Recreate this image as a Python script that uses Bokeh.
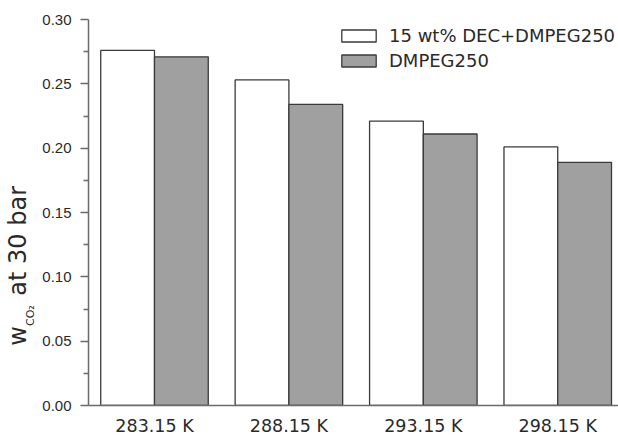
from bokeh.plotting import figure
from bokeh.models import (ColumnDataSource, Range1d, FixedTicker, NumeralTickFormatter,
                          Legend, LegendItem, LinearAxis)
from bokeh.transform import dodge
from bokeh.embed import file_html
from bokeh.resources import INLINE

# ---- data ----
temperatures = ["283.15 K", "288.15 K", "293.15 K", "298.15 K"]
dec_dmpeg250 = [0.276, 0.253, 0.221, 0.201]
dmpeg250 = [0.271, 0.234, 0.211, 0.189]
series_names = ["15 wt% DEC+DMPEG250", "DMPEG250"]
y_ticks = [0.0, 0.05, 0.10, 0.15, 0.20, 0.25, 0.30]
y_minor = [0.025, 0.075, 0.125, 0.175, 0.225, 0.275]
y_label_main = ("w", "at 30 bar")
y_label_sub = "CO\u2082"

xpos = [i + 1 for i in range(len(temperatures))]
src = ColumnDataSource(dict(x=xpos, a=dec_dmpeg250, b=dmpeg250))

p = figure(width=618, height=438, output_backend="svg", toolbar_location=None,
           x_range=Range1d(0.509, 4.452), y_range=Range1d(0, 0.30),
           min_border_left=88, min_border_right=0, min_border_top=19, min_border_bottom=33)
p.outline_line_color = None
p.xgrid.visible = False
p.ygrid.visible = False
p.background_fill_color = "white"

outline = "#3a3a3a"
r1 = p.vbar(x=dodge("x", -0.2), top="a", width=0.4, source=src,
            fill_color="white", line_color=outline, line_width=1.3)
r2 = p.vbar(x=dodge("x", 0.2), top="b", width=0.4, source=src,
            fill_color="#a0a0a0", line_color=outline, line_width=1.3)

axis_col = "#6a6a6a"
txt_col = "#2a2a2a"
NB = "\u00a0"

# y axis (carries the subscript as its axis label)
ya = p.yaxis[0]
ya.ticker = FixedTicker(ticks=y_ticks, minor_ticks=y_minor)
ya.formatter = NumeralTickFormatter(format="0.00")
ya.axis_line_color = axis_col
ya.axis_line_width = 1.5
ya.major_tick_line_color = axis_col
ya.minor_tick_line_color = axis_col
ya.major_tick_line_width = 1.3
ya.minor_tick_line_width = 1.3
ya.major_tick_out = 8
ya.major_tick_in = 0
ya.minor_tick_out = 5
ya.minor_tick_in = 0
ya.major_label_text_font = "Liberation Sans"
ya.major_label_text_font_size = "15px"
ya.major_label_text_color = txt_col
ya.major_label_standoff = 9
ya.axis_label = y_label_sub + NB * 59
ya.axis_label_text_font = "DejaVu Sans"
ya.axis_label_text_font_size = "11px"
ya.axis_label_text_font_style = "normal"
ya.axis_label_text_color = txt_col
ya.axis_label_standoff = 2

# outer label axis: "w ... at 30 bar"
la = LinearAxis(ticker=FixedTicker(ticks=[]), axis_line_color=None,
                major_tick_line_color=None, minor_tick_line_color=None,
                major_tick_out=0, major_tick_in=0, minor_tick_out=0, minor_tick_in=0,
                major_label_standoff=0, major_label_text_font_size="1px",
                axis_label=y_label_main[0] + NB * 4 + y_label_main[1] + NB * 14,
                axis_label_text_font="DejaVu Sans", axis_label_text_font_size="24px",
                axis_label_text_font_style="normal", axis_label_text_color=txt_col,
                axis_label_standoff=-10)
p.add_layout(la, "left")

# x axis
xa = p.xaxis[0]
xa.ticker = FixedTicker(ticks=xpos)
xa.major_label_overrides = {x: t for x, t in zip(xpos, temperatures)}
xa.axis_line_color = axis_col
xa.axis_line_width = 1.5
xa.major_tick_line_color = None
xa.minor_tick_line_color = None
xa.major_tick_out = 0
xa.major_tick_in = 0
xa.major_label_text_font = "DejaVu Sans"
xa.major_label_text_font_size = "17.5px"
xa.major_label_text_color = txt_col
xa.major_label_standoff = 10

legend = Legend(items=[LegendItem(label=series_names[0], renderers=[r1]),
                       LegendItem(label=series_names[1], renderers=[r2])],
                location=(249, 334), padding=0, margin=0, spacing=4,
                glyph_width=43, glyph_height=15, label_height=15, label_standoff=9,
                label_text_font="DejaVu Sans", label_text_font_size="18px",
                label_text_color=txt_col, border_line_color=None,
                background_fill_alpha=0)
p.add_layout(legend)

open("out.html", "w").write(file_html(p, INLINE))
